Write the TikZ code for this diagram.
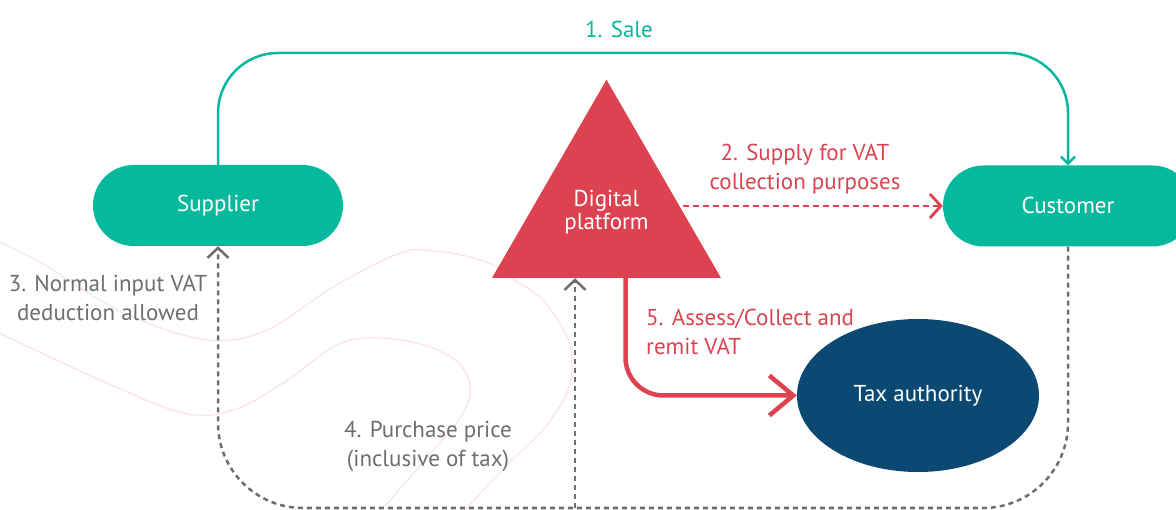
\documentclass[tikz,border=0pt]{standalone}
\usepackage{fontspec}
\setmainfont{PT Sans}
\usetikzlibrary{arrows.meta,shapes.geometric,calc}
\definecolor{cteal}{HTML}{06B99D}
\definecolor{cred}{HTML}{DC4250}
\definecolor{cnavy}{HTML}{0B4872}
\definecolor{cgray}{HTML}{6D6E71}
\definecolor{cpink}{HTML}{FBE3E5}
\newcommand\dfont{\fontsize{23}{29}\selectfont}
\begin{document}
\begin{tikzpicture}[x=1pt,y=-1pt,
  pill/.style={fill=cteal, text=white, rounded corners=40.5pt, minimum width=250pt, minimum height=81pt, inner sep=0pt, font=\dfont},
  platform/.style={regular polygon, regular polygon sides=3, minimum size=264.4pt, inner sep=0pt, fill=cred, text=white, align=center, font=\dfont},
  authority/.style={ellipse, minimum width=242pt, minimum height=153pt, inner sep=0pt, fill=cnavy, text=white, font=\dfont},
  lbl/.style={align=center, font=\dfont, inner sep=0pt},
  saleline/.style={draw=cteal, line width=2.5pt, rounded corners=60pt, -{Straight Barb[length=7pt,width=14pt]}},
  supplyline/.style={draw=cred, line width=2.8pt, dash pattern=on 6pt off 4pt, -{Straight Barb[length=11pt,width=24pt]}},
  remitline/.style={draw=cred, line width=4.5pt, rounded corners=38pt, -{Straight Barb[length=24pt,width=40pt]}},
  payline/.style={draw=cgray, line width=2.5pt, dash pattern=on 5pt off 4pt, rounded corners=85pt},
  paytip/.style={-{Straight Barb[length=10pt,width=21pt]}},
  wave/.style={draw=cpink, line width=1.2pt}
]
\useasboundingbox (0,0) rectangle (1176,510);

% background waves
\draw[wave] plot[smooth, tension=0.6] coordinates {(-5,240) (40,262) (83,290) (133,317) (207,340) (267,330) (333,287) (400,253) (433,251) (470,257) (500,268) (513,279) (543,300) (567,337) (572,367) (566,395) (543,430) (510,462) (460,515)};
\draw[wave] plot[smooth, tension=0.6] coordinates {(-5,331) (100,380) (183,413) (233,410) (283,383) (333,347) (367,338) (417,343) (455,360) (470,385) (462,415) (425,460) (377,515)};

% nodes
\node[pill] (sup) at (218,205.5) {Supplier};
\node[pill] (cus) at (1068,206) {\raisebox{2pt}{Customer}};
\node[platform] (tri) at (606.5,211.9) {Digital\\[-6pt]platform};
\node[authority] (tax) at (918,395.5) {\raisebox{-3pt}{Tax authority}};

% 1. Sale
\draw[saleline] (sup.north) -- (sup.north |- 0,53) -- (cus.north |- 0,53) -- (cus.north);
\node[lbl, text=cteal] (l1) at (619,29) {1. Sale};

% 2. Supply
\draw[supplyline] (tri.east |- cus.west) -- (cus.west);
\node[lbl, text=cred] (l2) at (805,169) {2. Supply for VAT\\collection purposes};

% 5. Remit
\coordinate (rstart) at ([xshift=19pt]tri.side 2);
\draw[remitline] (rstart) |- (tax.west);
\node[lbl, text=cred, align=left, anchor=west] (l5) at (646,332) {5. Assess/Collect and\\remit VAT};

% 3./4. payment
\coordinate (bl) at (sup.south |- 0,508);
\coordinate (br) at (cus.south |- 0,508);
\draw[payline, paytip] (cus.south) -- (br) -- (bl) -- (sup.south);
\coordinate (pstart) at ([xshift=-31.5pt]tri.side 2);
\draw[payline, paytip] (pstart |- 0,508) -- (pstart);
\node[lbl, text=cgray] (l3) at (108,298) {3. Normal input VAT\\deduction allowed};
\node[lbl, text=cgray] (l4) at (428,446) {4. Purchase price\\(inclusive of tax)};
\end{tikzpicture}
\end{document}
